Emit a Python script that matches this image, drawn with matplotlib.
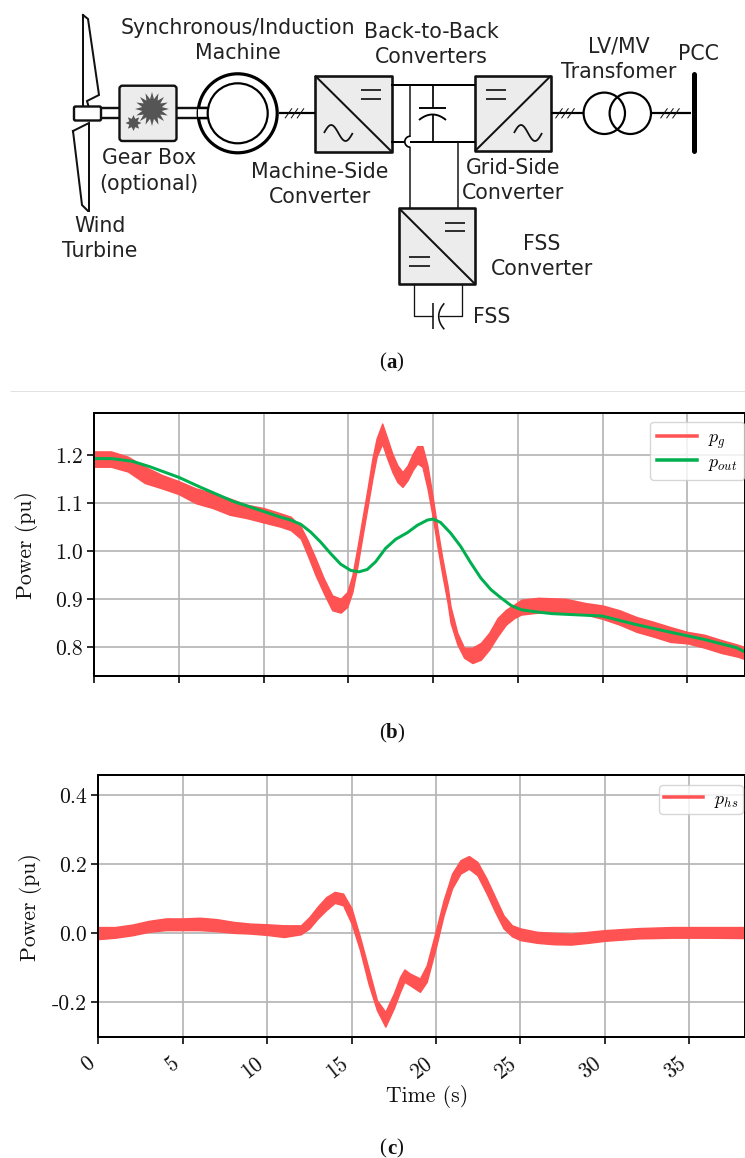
#!/usr/bin/env python3

import matplotlib
matplotlib.use("Agg")
import matplotlib.pyplot as plt
import numpy as np
from matplotlib.patches import Circle, FancyBboxPatch, Rectangle
from matplotlib.transforms import ScaledTranslation

W, H = 745, 1158
RED = "#ff5252"
GREEN = "#00b050"
GRID = "#b4b4b4"
BOX = "#ececec"
INK = "#111111"

# values: upper and lower edge of the noisy band
pg_t = [0, 1, 2, 3, 4, 5, 6, 7, 8, 9, 10, 11, 11.6, 12.2, 12.6, 13.07, 13.56, 14.05, 14.55, 14.94, 15.24, 15.53,
        15.83, 16.12, 16.42, 16.67, 17.0, 17.3, 17.6, 17.9, 18.2, 18.5, 18.8, 19.07, 19.37, 19.67, 19.96, 20.26,
        20.55, 20.85, 21.03, 21.43, 21.83, 22.32, 22.82, 23.31, 23.81, 24.3, 24.8, 25.2, 26.2, 27.8, 29, 30, 31,
        32, 33, 34, 35, 36, 37, 38, 38.4]
pg_hi = [1.208, 1.208, 1.197, 1.176, 1.159, 1.146, 1.131, 1.121, 1.110, 1.097, 1.090, 1.079, 1.072, 1.051, 1.023,
         0.985, 0.943, 0.908, 0.901, 0.915, 0.950, 1.006, 1.068, 1.127, 1.193, 1.235, 1.266, 1.235, 1.203, 1.179,
         1.165, 1.179, 1.203, 1.219, 1.219, 1.179, 1.117, 1.047, 0.985, 0.929, 0.885, 0.830, 0.799, 0.799, 0.809,
         0.830, 0.861, 0.878, 0.889, 0.899, 0.903, 0.901, 0.892, 0.887, 0.877, 0.863, 0.853, 0.842, 0.832, 0.826,
         0.815, 0.805, 0.800]
pg_lo = [1.176, 1.176, 1.166, 1.142, 1.131, 1.119, 1.100, 1.090, 1.076, 1.069, 1.060, 1.051, 1.044, 1.026, 0.992,
         0.950, 0.912, 0.877, 0.872, 0.884, 0.915, 0.967, 1.030, 1.089, 1.151, 1.197, 1.224, 1.193, 1.165, 1.144,
         1.134, 1.148, 1.169, 1.183, 1.176, 1.131, 1.075, 1.009, 0.950, 0.894, 0.851, 0.806, 0.778, 0.767, 0.774,
         0.795, 0.823, 0.847, 0.861, 0.868, 0.872, 0.872, 0.868, 0.859, 0.847, 0.832, 0.822, 0.811, 0.808, 0.799,
         0.788, 0.780, 0.775]

pout_t = [0, 1, 1.5, 2.3, 3.3, 5, 6.3, 8.2, 10, 11, 11.6, 12.2, 12.78, 13.37, 13.96, 14.55, 15.14, 15.63, 16.12,
          16.61, 17.2, 17.8, 18.5, 19.07, 19.67, 20, 20.44, 21.03, 21.63, 22.22, 22.82, 23.41, 24, 24.6, 25.2, 26,
          27, 28.17, 29.96, 32, 33.9, 35.9, 37.9, 38.4]
pout = [1.193, 1.193, 1.191, 1.187, 1.176, 1.154, 1.133, 1.104, 1.083, 1.071, 1.065, 1.056, 1.040, 1.019, 0.995,
        0.973, 0.960, 0.957, 0.962, 0.978, 1.006, 1.025, 1.039, 1.054, 1.065, 1.067, 1.060, 1.038, 1.010, 0.976,
        0.944, 0.920, 0.903, 0.887, 0.878, 0.874, 0.870, 0.868, 0.865, 0.847, 0.832, 0.817, 0.799, 0.790]

phs_t = [0, 1, 2, 3, 4, 5, 6, 7, 8, 9, 10, 11, 12, 12.5, 13, 13.5, 14, 14.5, 15, 15.5, 16, 16.5, 17, 17.5,
         17.87, 18.13, 18.46, 19.05, 19.45, 20, 20.45, 20.95, 21.45, 21.95, 22.45, 23, 23.5, 24, 24.5, 25,
         26, 27, 28, 29, 30, 32, 34, 36, 38.3]
phs_hi = [0.017, 0.017, 0.024, 0.035, 0.042, 0.042, 0.044, 0.040, 0.032, 0.027, 0.025, 0.022, 0.022, 0.046,
          0.077, 0.104, 0.119, 0.114, 0.071, -0.012, -0.103, -0.195, -0.229, -0.176, -0.128, -0.106, -0.118,
          -0.132, -0.094, 0.008, 0.095, 0.172, 0.211, 0.223, 0.206, 0.157, 0.104, 0.051, 0.022, 0.013, 0.003,
          0.000, -0.002, 0.003, 0.008, 0.014, 0.017, 0.017, 0.017]
phs_lo = [-0.018, -0.014, -0.007, 0.003, 0.008, 0.008, 0.008, 0.005, 0.000, -0.002, -0.006, -0.012, -0.004,
          0.013, 0.042, 0.066, 0.087, 0.080, 0.027, -0.050, -0.147, -0.224, -0.272, -0.219, -0.171, -0.142,
          -0.152, -0.171, -0.142, -0.041, 0.051, 0.129, 0.172, 0.186, 0.167, 0.114, 0.061, 0.013, -0.010,
          -0.021, -0.029, -0.033, -0.034, -0.029, -0.023, -0.016, -0.014, -0.014, -0.015]

time_ticks = [0, 5, 10, 15, 20, 25, 30, 35]
b_ticks = [0.8, 0.9, 1.0, 1.1, 1.2]
b_labels = ["0.8", "0.9", "1.0", "1.1", "1.2"]
c_ticks = [-0.2, 0.0, 0.2, 0.4]
c_labels = ["-0.2", "0.0", "0.2", "0.4"]

plt.rcParams["mathtext.fontset"] = "cm"
plt.rcParams["axes.unicode_minus"] = False

fig = plt.figure(figsize=(W / 100, H / 100), dpi=100)


def px(v):
    return v * 0.72


def axes_px(left, top, bottom):
    return fig.add_axes([left / W, 1 - bottom / H, (W - left) / W, (bottom - top) / H])


def style(ax, xlim, ylim, yticks, ylabels):
    ax.set_xlim(*xlim)
    ax.set_ylim(*ylim)
    ax.set_xticks(time_ticks)
    ax.set_yticks(yticks)
    ax.set_yticklabels(ylabels, family="cmr10", fontsize=15.6, color=INK)
    ax.grid(True, color=GRID, linewidth=px(1.7))
    ax.set_axisbelow(True)
    ax.tick_params(width=px(1.6), length=px(7), pad=3)
    for s in ax.spines.values():
        s.set_linewidth(px(2))
    ax.set_ylabel("Power (pu)", family="cmr10", fontsize=15.6, color=INK)


def band(ax, t, lo, hi):
    poly = ax.fill_between(t, lo, hi, color=RED, linewidth=1)
    poly.set_joinstyle("round")


# panel (b)
ax_b = axes_px(94, 413, 676)
style(ax_b, (0, 38.4), (0.74, 1.288), b_ticks, b_labels)
ax_b.set_xticklabels([])
ax_b.yaxis.set_label_coords((38 - 94) / (W - 94), (676 - 545) / 263)
band(ax_b, pg_t, pg_lo, pg_hi)
ax_b.plot(pout_t, pout, color=GREEN, linewidth=px(3), solid_joinstyle="round")
ax_b.plot([], [], color=RED, linewidth=px(3.5), label="$p_g$")
ax_b.plot([], [], color=GREEN, linewidth=px(3.5), label="$p_{out}$")
ax_b.legend(loc="upper left", bbox_to_anchor=((650 - 94) / (W - 94), (676 - 421.5) / 263), borderaxespad=0,
            fontsize=13, handlelength=2.2, borderpad=0.4, labelspacing=0.1, handletextpad=0.6)

# panel (c)
ax_c = axes_px(98.3, 775, 1037)
style(ax_c, (0, 38.3), (-0.302, 0.458), c_ticks, c_labels)
ax_c.set_xticklabels([str(t) for t in time_ticks], family="cmr10", fontsize=15.6, color=INK,
                     rotation=38, ha="right", rotation_mode="anchor")
shift = ScaledTranslation(-12 / 100, -5 / 100, fig.dpi_scale_trans)
for tl in ax_c.get_xticklabels():
    tl.set_transform(tl.get_transform() + shift)
ax_c.yaxis.set_label_coords((42 - 98.3) / (W - 98.3), (1037 - 907) / 262)
ax_c.set_xlabel("Time (s)", family="cmr10", fontsize=15.6, color=INK)
ax_c.xaxis.set_label_coords((427 - 98.3) / (W - 98.3), (1037 - 1097) / 262)
ax_c.xaxis.get_label().set_verticalalignment("center")
band(ax_c, phs_t, phs_lo, phs_hi)
ax_c.plot([], [], color=RED, linewidth=px(3.5), label="$p_{hs}$")
ax_c.legend(loc="upper left", bbox_to_anchor=((659 - 98.3) / (W - 98.3), (1037 - 785) / 262), borderaxespad=0,
            fontsize=13, handlelength=2.2, borderpad=0.25, handletextpad=0.6)

# block diagram on a pixel-sized overlay
dg = fig.add_axes([0, 0, 1, 1], facecolor="none")
dg.set_xlim(0, W)
dg.set_ylim(H, 0)
dg.axis("off")


def wire(xs, ys, lw=1.5, color="black", **kw):
    dg.plot(xs, ys, color=color, linewidth=px(lw), solid_capstyle="butt", **kw)


def label(x, y, s):
    dg.text(x, y, s, ha="center", va="center", fontsize=14.8, color="#222222", family="DejaVu Sans")


def dc_mark(x0, x1, y):
    wire([x0, x1], [y, y], 1.7, INK)
    wire([x0, x1], [y + 8.5, y + 8.5], 1.7, INK)


def sine_mark(x0, x1, y):
    xs = np.linspace(x0, x1, 60)
    wire(xs, y - 8 * np.sin((xs - x0) / (x1 - x0) * 2 * np.pi), 1.8, INK)


def converter(x0, y0, x1, y1, rising=False):
    dg.add_patch(Rectangle((x0, y0), x1 - x0, y1 - y0, facecolor=BOX, edgecolor=INK, linewidth=px(2.6),
                           joinstyle="round"))
    if rising:
        wire([x0, x1], [y1, y0], 2, INK)
    else:
        wire([x0, x1], [y0, y1], 2, INK)


def slashes(x, y):
    for dx in (-6, 0, 6):
        wire([x + dx - 3.5, x + dx + 3.5], [y + 5, y - 5], 1, INK)


def gear(cx, cy, r0, r1, n):
    ang = np.linspace(0, 2 * np.pi, 2 * n, endpoint=False)
    rad = np.where(np.arange(2 * n) % 2 == 0, r1, r0)
    dg.fill(cx + rad * np.cos(ang), cy + rad * np.sin(ang), color="#555555", linewidth=0)


# blades and hub
dg.plot([83, 88, 99, 87, 89, 89, 83, 83], [15, 19, 95, 101, 108, 108, 108, 15], color=INK, linewidth=px(2),
        solid_joinstyle="miter")
dg.plot([73, 83, 89, 89, 88, 82, 73], [131, 126, 123, 211, 211, 205, 131], color=INK, linewidth=px(2),
        solid_joinstyle="miter")
wire([101, 119], [108, 108], 2.4, INK)
wire([101, 119], [118, 118], 2.4, INK)
dg.add_patch(FancyBboxPatch((74, 106.5), 27, 14, boxstyle="round,pad=0,rounding_size=1.5", facecolor="white",
                            edgecolor=INK, linewidth=px(2.4), zorder=3))

# gear box
dg.add_patch(FancyBboxPatch((119.5, 85.7), 57, 55.3, boxstyle="round,pad=0,rounding_size=3", facecolor=BOX,
                            edgecolor=INK, linewidth=px(2.4)))
gear(152, 109, 10, 17, 16)
gear(133.5, 123, 4.5, 8, 8)

# generator
wire([176, 207], [108, 108], 2.4, INK)
wire([176, 207], [118, 118], 2.4, INK)
dg.add_patch(Circle((237.7, 113.3), 39.5, facecolor="none", edgecolor="black", linewidth=px(3.2)))
dg.add_patch(Rectangle((198, 109), 11, 8, facecolor="white", edgecolor="none", zorder=3))
dg.add_patch(Circle((237.7, 113.3), 30, facecolor="none", edgecolor="black", linewidth=px(2.2), zorder=4))
wire([197, 209], [108, 108], 2.4, "black", zorder=4)
wire([197, 209], [118, 118], 2.4, "black", zorder=4)

wire([279, 315], [113.3, 113.3], 2.2)
slashes(294.5, 113.3)

# DC link
wire([391, 475], [85, 85], 2)
wire([391, 405], [141.7, 141.7], 2)
wire([410, 475], [141.7, 141.7], 2)
wire([410.3, 410.3], [85, 136.5], 1.5, INK)
arc = np.linspace(-np.pi / 2, np.pi / 2, 20)
wire(410.3 - 5.5 * np.cos(arc), 141.7 + 5.5 * np.sin(arc), 1.7)
wire([410.3, 410.3], [147, 208], 1.5, INK)
wire([458.3, 458.3], [141.7, 208], 1.5, INK)
wire([433, 433], [85, 108.3], 1.7)
wire([433, 433], [114.5, 141.7], 1.7)
wire([419, 446], [108.3, 108.3], 1.9)
xs = np.linspace(419, 446, 30)
wire(xs, 114.5 + 5.5 * ((xs - 432.5) / 13.5) ** 2, 1.9)

converter(315, 75.7, 391.7, 151.7)
dc_mark(361, 381, 90)
sine_mark(324, 352.7, 133)

converter(475, 75.7, 551, 151, rising=True)
dc_mark(485.7, 505.7, 90)
sine_mark(514, 542, 133)

converter(399, 208.3, 475, 284)
dc_mark(445, 465, 222.7)
dc_mark(409, 429.7, 257)

# grid side
wire([551, 583], [113.3, 113.3], 2.2)
slashes(565, 113.3)
dg.add_patch(Circle((604.3, 113.3), 20.7, facecolor="none", edgecolor="black", linewidth=px(2.2)))
dg.add_patch(Circle((630.3, 113.3), 20.7, facecolor="none", edgecolor="black", linewidth=px(2.2)))
wire([651, 691], [113.3, 113.3], 2.2)
slashes(670, 113.3)
dg.plot([693.7, 693.7], [73.5, 151], color="black", linewidth=px(5), solid_capstyle="round")

# FSS capacitor
wire([414.3, 414.3, 433.3], [284, 316, 316], 1.3, INK)
wire([462.3, 462.3, 439], [284, 316, 316], 1.3, INK)
wire([433.3, 433.3], [303.3, 329.3], 1.6, INK)
ys = np.linspace(303.3, 329.3, 30)
wire(444.3 - 5.6 * (1 - ((ys - 316.3) / 13) ** 2), ys, 1.6, INK)

label(238, 28, "Synchronous/Induction")
label(238, 52.6, "Machine")
label(431.7, 32, "Back-to-Back")
label(431.7, 57, "Converters")
label(149, 158.5, "Gear Box")
label(149, 184, "(optional)")
label(320, 172, "Machine-Side")
label(320, 197, "Converter")
label(100, 226, "Wind")
label(100, 251, "Turbine")
label(619, 47, "LV/MV")
label(619, 72, "Transfomer")
label(698, 54, "PCC")
label(513, 168, "Grid-Side")
label(513, 193, "Converter")
label(541.7, 244, "FSS")
label(541.7, 269, "Converter")
label(491.7, 317, "FSS")

# separator and sub-figure captions
wire([10, 745], [390.5, 390.5], 1, "#e2e2e2")
half = {"a": 5.2, "b": 6, "c": 5.2}
for y, letter in [(360, "a"), (731, "b"), (1146, "c")]:
    dg.text(391.5, y, letter, ha="center", va="center_baseline", fontsize=15, fontweight="bold",
            family="Liberation Serif", color=INK)
    dg.text(391.5 - half[letter], y, "(", ha="right", va="center_baseline", fontsize=15,
            family="Liberation Serif", color=INK)
    dg.text(391.5 + half[letter], y, ")", ha="left", va="center_baseline", fontsize=15,
            family="Liberation Serif", color=INK)

plt.savefig("out.png", dpi=100)
